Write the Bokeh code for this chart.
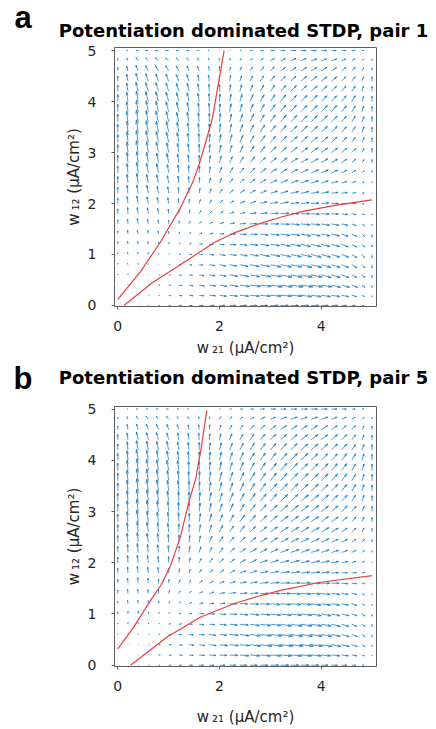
import numpy as np
from bokeh.plotting import figure
from bokeh.models import Range1d, Label
from bokeh.layouts import column
from bokeh.embed import file_html
from bokeh.resources import INLINE

# ---------------- data ----------------
# quiver grid (same on both axes), µA/cm²
w_grid = [0.0, 0.2, 0.4, 0.6, 0.8, 1.0, 1.2, 1.4, 1.6, 1.8, 2.0, 2.2, 2.4,
          2.6, 2.8, 3.0, 3.2, 3.4, 3.6, 3.8, 4.0, 4.2, 4.4, 4.6, 4.8, 5.0]

# arrow components (tenths of an arbitrary unit); rows: w12 = 0 ... 5, columns: w21 = 0 ... 5
U_pair1 = [
    [0, 0, 1, 2, 3, 4, 6, 7, 9, 11, 12, 14, 15, 16, 17, 18, 18, 18, 18, 17, 16, 14, 11, 8, 5, 0],
    [0, 0, 1, 2, 3, 5, 7, 9, 11, 14, 16, 18, 20, 21, 23, 24, 25, 25, 24, 23, 21, 19, 16, 11, 6, 0],
    [0, 0, 0, 2, 3, 5, 7, 9, 12, 14, 17, 19, 22, 24, 25, 27, 27, 28, 27, 26, 24, 21, 18, 13, 7, 0],
    [0, 0, 0, 1, 2, 4, 6, 8, 11, 13, 15, 18, 20, 22, 24, 25, 26, 26, 26, 25, 23, 20, 17, 12, 7, 0],
    [0, -1, 0, 0, 1, 3, 5, 7, 9, 12, 14, 16, 19, 21, 22, 24, 25, 25, 25, 24, 22, 20, 16, 12, 7, 0],
    [0, -1, -1, 0, 1, 2, 4, 6, 8, 10, 13, 15, 17, 19, 21, 22, 23, 24, 24, 23, 21, 19, 16, 12, 6, 0],
    [0, -1, -1, -1, 0, 1, 3, 5, 7, 9, 11, 14, 16, 18, 20, 21, 22, 23, 22, 22, 20, 18, 15, 11, 6, 0],
    [0, -1, -2, -1, -1, 0, 2, 4, 6, 8, 10, 13, 15, 17, 18, 20, 21, 21, 22, 21, 20, 18, 15, 11, 6, 0],
    [0, -1, -2, -2, -1, 0, 1, 3, 5, 7, 9, 11, 13, 15, 17, 19, 20, 20, 21, 20, 19, 17, 14, 10, 6, 0],
    [0, -1, -2, -2, -2, -1, 0, 2, 4, 6, 8, 10, 12, 14, 16, 18, 19, 19, 20, 19, 18, 16, 14, 10, 6, 0],
    [0, -2, -3, -3, -3, -2, -1, 1, 3, 5, 7, 9, 11, 13, 15, 17, 18, 19, 19, 18, 17, 16, 13, 10, 5, 0],
    [0, -2, -3, -3, -3, -2, -1, 0, 2, 4, 6, 8, 10, 12, 14, 16, 17, 18, 18, 18, 17, 15, 13, 9, 5, 0],
    [0, -2, -3, -4, -4, -3, -2, -1, 1, 3, 5, 7, 9, 11, 13, 15, 16, 17, 17, 17, 16, 15, 12, 9, 5, 0],
    [0, -2, -3, -4, -4, -3, -2, -1, 1, 2, 5, 7, 9, 11, 13, 14, 15, 16, 17, 17, 16, 14, 12, 9, 5, 0],
    [0, -2, -3, -4, -4, -4, -3, -2, 0, 2, 4, 6, 8, 10, 12, 14, 15, 16, 16, 16, 15, 14, 12, 9, 5, 0],
    [0, -2, -4, -4, -5, -4, -3, -2, 0, 1, 3, 5, 7, 9, 11, 13, 14, 15, 16, 16, 15, 14, 12, 9, 5, 0],
    [0, -2, -4, -5, -5, -5, -4, -3, -1, 1, 3, 5, 7, 9, 11, 12, 14, 15, 15, 15, 15, 13, 11, 8, 5, 0],
    [0, -2, -4, -5, -5, -5, -4, -3, -2, 0, 2, 4, 6, 8, 10, 12, 13, 14, 15, 15, 14, 13, 11, 8, 5, 0],
    [0, -3, -4, -5, -6, -5, -5, -4, -2, 0, 2, 4, 6, 8, 9, 11, 13, 14, 14, 14, 14, 13, 11, 8, 5, 0],
    [0, -3, -4, -5, -6, -6, -5, -4, -2, -1, 1, 3, 5, 7, 9, 11, 12, 13, 14, 14, 14, 12, 11, 8, 4, 0],
    [0, -3, -4, -6, -6, -6, -5, -4, -3, -1, 1, 3, 5, 7, 9, 10, 12, 13, 14, 14, 13, 12, 10, 8, 4, 0],
    [0, -3, -5, -6, -6, -6, -5, -4, -3, -1, 0, 2, 4, 6, 8, 10, 12, 13, 13, 14, 13, 12, 10, 8, 4, 0],
    [0, -3, -5, -6, -6, -6, -6, -5, -3, -2, 0, 2, 4, 6, 8, 10, 11, 12, 13, 13, 13, 12, 10, 8, 4, 0],
    [0, -3, -5, -6, -7, -7, -6, -5, -4, -2, 0, 2, 4, 6, 8, 9, 11, 12, 13, 13, 13, 12, 10, 8, 4, 0],
    [0, -3, -5, -6, -7, -7, -6, -5, -4, -2, -1, 1, 3, 5, 7, 9, 11, 12, 12, 13, 12, 12, 10, 7, 4, 0],
    [0, -3, -5, -6, -7, -7, -6, -6, -4, -3, -1, 1, 3, 5, 7, 9, 10, 11, 12, 12, 12, 11, 10, 7, 4, 0],
]
V_pair1 = [
    [0, 0, 0, 0, 0, 0, 0, 0, 0, 0, 0, 0, 0, 0, 0, 0, 0, 0, 0, 0, 0, 0, 0, 0, 0, 0],
    [0, 0, 0, 0, -1, -1, -1, -1, -1, -1, -2, -2, -2, -2, -2, -2, -2, -2, -3, -3, -3, -3, -3, -3, -3, -3],
    [1, 1, 0, 0, 0, -1, -1, -2, -2, -2, -3, -3, -3, -3, -3, -4, -4, -4, -4, -4, -4, -5, -5, -5, -5, -5],
    [2, 2, 2, 1, 0, 0, -1, -1, -2, -2, -3, -3, -4, -4, -4, -4, -5, -5, -5, -5, -6, -6, -6, -6, -6, -6],
    [3, 3, 3, 2, 1, 1, 0, -1, -1, -2, -3, -3, -4, -4, -4, -5, -5, -5, -6, -6, -6, -6, -6, -7, -7, -7],
    [4, 5, 5, 4, 3, 2, 1, 0, 0, -1, -2, -2, -3, -3, -4, -4, -5, -5, -5, -6, -6, -6, -6, -7, -7, -7],
    [6, 7, 7, 6, 5, 4, 3, 2, 1, 0, -1, -1, -2, -2, -3, -3, -4, -4, -5, -5, -5, -5, -6, -6, -6, -6],
    [7, 9, 9, 8, 7, 6, 5, 4, 3, 2, 1, 0, -1, -1, -2, -2, -3, -3, -4, -4, -4, -4, -5, -5, -5, -6],
    [9, 11, 12, 11, 9, 8, 7, 6, 5, 4, 3, 2, 1, 1, 0, 0, -1, -2, -2, -2, -3, -3, -3, -4, -4, -4],
    [11, 14, 14, 13, 12, 10, 9, 8, 7, 6, 5, 4, 3, 2, 2, 1, 1, 0, 0, -1, -1, -1, -2, -2, -2, -3],
    [12, 16, 17, 15, 14, 13, 11, 10, 9, 8, 7, 6, 5, 5, 4, 3, 3, 2, 2, 1, 1, 0, 0, 0, -1, -1],
    [14, 18, 19, 18, 16, 15, 14, 13, 11, 10, 9, 8, 7, 7, 6, 5, 5, 4, 4, 3, 3, 2, 2, 2, 1, 1],
    [15, 20, 22, 20, 19, 17, 16, 15, 13, 12, 11, 10, 9, 9, 8, 7, 7, 6, 6, 5, 5, 4, 4, 4, 3, 3],
    [16, 21, 24, 22, 21, 19, 18, 17, 15, 14, 13, 12, 11, 11, 10, 9, 9, 8, 8, 7, 7, 6, 6, 6, 5, 5],
    [17, 23, 25, 24, 22, 21, 20, 18, 17, 16, 15, 14, 13, 13, 12, 11, 11, 10, 9, 9, 9, 8, 8, 8, 7, 7],
    [18, 24, 27, 25, 24, 22, 21, 20, 19, 18, 17, 16, 15, 14, 14, 13, 12, 12, 11, 11, 10, 10, 10, 9, 9, 9],
    [18, 25, 27, 26, 25, 23, 22, 21, 20, 19, 18, 17, 16, 15, 15, 14, 14, 13, 13, 12, 12, 12, 11, 11, 11, 10],
    [18, 25, 28, 26, 25, 24, 23, 21, 20, 19, 19, 18, 17, 16, 16, 15, 15, 14, 14, 13, 13, 13, 12, 12, 12, 11],
    [18, 24, 27, 26, 25, 24, 22, 22, 21, 20, 19, 18, 17, 17, 16, 16, 15, 15, 14, 14, 14, 13, 13, 13, 12, 12],
    [17, 23, 26, 25, 24, 23, 22, 21, 20, 19, 18, 18, 17, 17, 16, 16, 15, 15, 14, 14, 14, 14, 13, 13, 13, 12],
    [16, 21, 24, 23, 22, 21, 20, 20, 19, 18, 17, 17, 16, 16, 15, 15, 15, 14, 14, 14, 13, 13, 13, 13, 12, 12],
    [14, 19, 21, 20, 20, 19, 18, 18, 17, 16, 16, 15, 15, 14, 14, 14, 13, 13, 13, 12, 12, 12, 12, 12, 12, 11],
    [11, 16, 18, 17, 16, 16, 15, 15, 14, 14, 13, 13, 12, 12, 12, 12, 11, 11, 11, 11, 10, 10, 10, 10, 10, 10],
    [8, 11, 13, 12, 12, 12, 11, 11, 10, 10, 10, 9, 9, 9, 9, 9, 8, 8, 8, 8, 8, 8, 8, 8, 7, 7],
    [5, 6, 7, 7, 7, 6, 6, 6, 6, 6, 5, 5, 5, 5, 5, 5, 5, 5, 5, 4, 4, 4, 4, 4, 4, 4],
    [0, 0, 0, 0, 0, 0, 0, 0, 0, 0, 0, 0, 0, 0, 0, 0, 0, 0, 0, 0, 0, 0, 0, 0, 0, 0],
]
U_pair5 = [
    [0, 0, 1, 2, 3, 5, 6, 8, 10, 11, 13, 14, 16, 17, 18, 19, 19, 19, 19, 18, 16, 14, 12, 9, 5, 0],
    [0, 0, 1, 2, 4, 6, 8, 10, 12, 15, 17, 19, 21, 23, 24, 25, 26, 26, 25, 24, 22, 20, 16, 12, 6, 0],
    [0, 0, 1, 2, 4, 6, 8, 11, 13, 16, 19, 21, 23, 25, 27, 28, 29, 29, 29, 27, 25, 22, 18, 13, 7, 0],
    [0, 0, 1, 2, 3, 5, 7, 10, 12, 15, 17, 20, 22, 24, 26, 27, 28, 28, 27, 26, 24, 21, 18, 13, 7, 0],
    [0, 0, 0, 1, 2, 4, 6, 8, 11, 13, 16, 18, 20, 22, 24, 25, 26, 27, 26, 25, 23, 21, 17, 12, 7, 0],
    [0, 0, 0, 1, 2, 3, 5, 7, 10, 12, 15, 17, 19, 21, 23, 24, 25, 25, 25, 24, 23, 20, 17, 12, 7, 0],
    [0, -1, -1, 0, 1, 3, 4, 6, 9, 11, 13, 16, 18, 20, 22, 23, 24, 24, 24, 23, 22, 19, 16, 12, 6, 0],
    [0, -1, -1, -1, 0, 2, 3, 5, 8, 10, 12, 14, 17, 19, 20, 22, 23, 23, 23, 22, 21, 19, 15, 11, 6, 0],
    [0, -1, -1, -1, 0, 1, 3, 4, 7, 9, 11, 13, 15, 17, 19, 21, 22, 22, 22, 22, 20, 18, 15, 11, 6, 0],
    [0, -1, -2, -2, -1, 0, 2, 3, 5, 8, 10, 12, 14, 16, 18, 19, 21, 21, 21, 21, 19, 17, 14, 11, 6, 0],
    [0, -1, -2, -2, -1, 0, 1, 3, 5, 7, 9, 11, 13, 15, 17, 19, 20, 20, 20, 20, 19, 17, 14, 10, 6, 0],
    [0, -1, -2, -2, -2, -1, 1, 2, 4, 6, 8, 11, 13, 15, 16, 18, 19, 20, 20, 19, 18, 17, 14, 10, 6, 0],
    [0, -2, -2, -3, -2, -1, 0, 2, 3, 6, 8, 10, 12, 14, 16, 17, 18, 19, 19, 19, 18, 16, 14, 10, 6, 0],
    [0, -2, -2, -3, -2, -2, 0, 1, 3, 5, 7, 9, 11, 13, 15, 17, 18, 19, 19, 19, 18, 16, 13, 10, 5, 0],
    [0, -2, -3, -3, -3, -2, -1, 1, 3, 5, 7, 9, 11, 13, 15, 16, 18, 18, 19, 18, 17, 16, 13, 10, 5, 0],
    [0, -2, -3, -3, -3, -2, -1, 0, 2, 4, 6, 8, 10, 12, 14, 16, 17, 18, 18, 18, 17, 15, 13, 10, 5, 0],
    [0, -2, -3, -3, -3, -3, -1, 0, 2, 4, 6, 8, 10, 12, 14, 15, 17, 17, 18, 18, 17, 15, 13, 9, 5, 0],
    [0, -2, -3, -4, -4, -3, -2, 0, 1, 3, 5, 7, 9, 11, 13, 15, 16, 17, 17, 17, 16, 15, 12, 9, 5, 0],
    [0, -2, -3, -4, -4, -3, -2, -1, 1, 3, 5, 7, 9, 11, 13, 14, 15, 16, 17, 17, 16, 14, 12, 9, 5, 0],
    [0, -2, -3, -4, -4, -4, -3, -1, 0, 2, 4, 6, 8, 10, 12, 14, 15, 16, 16, 16, 16, 14, 12, 9, 5, 0],
    [0, -2, -4, -4, -4, -4, -3, -2, 0, 2, 4, 6, 8, 10, 12, 13, 15, 16, 16, 16, 15, 14, 12, 9, 5, 0],
    [0, -2, -4, -4, -4, -4, -3, -2, 0, 2, 4, 6, 8, 10, 12, 13, 14, 15, 16, 16, 15, 14, 12, 9, 5, 0],
    [0, -2, -4, -4, -5, -4, -3, -2, -1, 1, 3, 5, 7, 9, 11, 13, 14, 15, 16, 16, 15, 14, 12, 9, 5, 0],
    [0, -2, -4, -5, -5, -4, -4, -2, -1, 1, 3, 5, 7, 9, 11, 13, 14, 15, 15, 15, 15, 14, 11, 9, 5, 0],
    [0, -2, -4, -5, -5, -5, -4, -3, -1, 1, 3, 5, 7, 9, 11, 12, 14, 15, 15, 15, 15, 13, 11, 8, 5, 0],
    [0, -2, -4, -5, -5, -5, -4, -3, -1, 0, 2, 4, 6, 8, 10, 12, 13, 14, 15, 15, 14, 13, 11, 8, 5, 0],
]
V_pair5 = [
    [0, 0, 0, 0, 0, 0, 0, 0, 0, 0, 0, 0, 0, 0, 0, 0, 0, 0, 0, 0, 0, 0, 0, 0, 0, 0],
    [0, 0, 0, 0, 0, -1, -1, -1, -1, -1, -1, -1, -2, -2, -2, -2, -2, -2, -2, -2, -2, -2, -2, -2, -2, -2],
    [1, 1, 1, 0, 0, 0, -1, -1, -2, -2, -2, -2, -2, -3, -3, -3, -3, -3, -3, -3, -4, -4, -4, -4, -4, -4],
    [2, 2, 2, 1, 1, 0, 0, -1, -1, -2, -2, -2, -3, -3, -3, -3, -4, -4, -4, -4, -4, -4, -5, -5, -5, -5],
    [3, 4, 4, 3, 2, 1, 1, 0, -1, -1, -2, -2, -2, -3, -3, -3, -4, -4, -4, -4, -4, -5, -5, -5, -5, -5],
    [5, 6, 6, 5, 4, 3, 2, 1, 1, 0, -1, -1, -2, -2, -2, -3, -3, -3, -3, -4, -4, -4, -4, -4, -5, -5],
    [6, 8, 8, 7, 6, 5, 4, 3, 2, 1, 1, 0, 0, -1, -1, -2, -2, -2, -2, -3, -3, -3, -3, -4, -4, -4],
    [8, 10, 10, 9, 8, 7, 6, 5, 4, 3, 2, 2, 1, 1, 0, 0, 0, -1, -1, -1, -2, -2, -2, -2, -3, -3],
    [9, 12, 13, 12, 10, 9, 8, 7, 6, 5, 4, 4, 3, 3, 2, 2, 1, 1, 1, 0, 0, 0, -1, -1, -1, -1],
    [11, 14, 16, 14, 13, 11, 10, 9, 8, 7, 7, 6, 5, 5, 4, 4, 3, 3, 2, 2, 2, 1, 1, 1, 1, 0],
    [13, 17, 18, 17, 15, 14, 13, 11, 10, 10, 9, 8, 7, 7, 6, 6, 5, 5, 4, 4, 4, 3, 3, 3, 3, 2],
    [14, 19, 21, 19, 18, 16, 15, 14, 13, 12, 11, 10, 9, 9, 8, 8, 7, 7, 7, 6, 6, 5, 5, 5, 5, 4],
    [16, 21, 23, 21, 20, 18, 17, 16, 15, 14, 13, 12, 12, 11, 10, 10, 9, 9, 9, 8, 8, 7, 7, 7, 7, 6],
    [17, 22, 25, 23, 22, 20, 19, 18, 17, 16, 15, 14, 14, 13, 12, 12, 11, 11, 11, 10, 10, 9, 9, 9, 9, 8],
    [18, 24, 27, 25, 23, 22, 21, 20, 19, 18, 17, 16, 15, 15, 14, 14, 13, 13, 12, 12, 12, 11, 11, 11, 11, 10],
    [18, 25, 28, 26, 25, 23, 22, 21, 20, 19, 18, 18, 17, 16, 16, 15, 15, 14, 14, 14, 13, 13, 13, 12, 12, 12],
    [19, 25, 28, 27, 26, 24, 23, 22, 21, 20, 19, 19, 18, 18, 17, 17, 16, 16, 15, 15, 15, 14, 14, 14, 14, 13],
    [19, 25, 29, 27, 26, 25, 24, 23, 22, 21, 20, 19, 19, 18, 18, 17, 17, 17, 16, 16, 15, 15, 15, 15, 15, 14],
    [18, 25, 28, 27, 26, 24, 23, 22, 22, 21, 20, 20, 19, 19, 18, 18, 17, 17, 17, 16, 16, 16, 16, 15, 15, 15],
    [17, 24, 27, 26, 25, 24, 23, 22, 21, 20, 20, 19, 19, 18, 18, 17, 17, 17, 16, 16, 16, 16, 16, 15, 15, 15],
    [16, 22, 25, 24, 23, 22, 21, 20, 20, 19, 19, 18, 18, 17, 17, 17, 16, 16, 16, 15, 15, 15, 15, 15, 15, 14],
    [14, 19, 22, 21, 20, 20, 19, 18, 18, 17, 17, 16, 16, 16, 15, 15, 15, 15, 14, 14, 14, 14, 14, 13, 13, 13],
    [12, 16, 18, 17, 17, 16, 16, 15, 15, 14, 14, 14, 13, 13, 13, 13, 12, 12, 12, 12, 12, 12, 12, 11, 11, 11],
    [8, 12, 13, 13, 12, 12, 11, 11, 11, 11, 10, 10, 10, 10, 10, 9, 9, 9, 9, 9, 9, 9, 9, 9, 8, 8],
    [5, 6, 7, 7, 7, 7, 6, 6, 6, 6, 6, 6, 5, 5, 5, 5, 5, 5, 5, 5, 5, 5, 5, 5, 5, 5],
    [0, 0, 0, 0, 0, 0, 0, 0, 0, 0, 0, 0, 0, 0, 0, 0, 0, 0, 0, 0, 0, 0, 0, 0, 0, 0],
]

# nullclines (red curves)
steep1_w21 = [0.0, 0.45, 0.83, 1.23, 1.48, 1.61, 1.75, 1.86, 2.09]
steep1_w12 = [0.12, 0.67, 1.23, 1.91, 2.43, 2.80, 3.28, 3.67, 5.0]
flat1_w21 = [0.12, 0.67, 1.23, 1.89, 2.28, 2.74, 3.2, 3.66, 4.3, 5.0]
flat1_w12 = [0.0, 0.44, 0.8, 1.23, 1.42, 1.59, 1.73, 1.85, 1.97, 2.07]

steep5_w21 = [0.0, 0.31, 0.64, 0.86, 1.04, 1.23, 1.40, 1.53, 1.63, 1.75]
steep5_w12 = [0.32, 0.74, 1.26, 1.58, 1.95, 2.5, 3.2, 3.63, 4.18, 4.97]
flat5_w21 = [0.25, 0.97, 1.63, 2.28, 2.81, 3.2, 3.99, 5.0]
flat5_w12 = [0.0, 0.55, 0.94, 1.2, 1.36, 1.46, 1.62, 1.75]

titles = ["Potentiation dominated STDP, pair 1", "Potentiation dominated STDP, pair 5"]
letters = ["a", "b"]
x_ticks = [0, 2, 4]
y_ticks = [0, 1, 2, 3, 4, 5]
x_label = "w\u2009\u2082\u2081 (\u03bcA/cm\u00b2)"
y_label = "w\u2009\u2081\u2082 (\u03bcA/cm\u00b2)"

# ---------------- drawing ----------------
ARROW = "#1479c2"
RED = "#e8403c"
FRAME = "#5f5f5f"
TXT = "#262626"
FRAME_LEFT = 114


def quiver(p, U, V):
    X, Y = np.meshgrid(np.array(w_grid), np.array(w_grid))
    u = np.array(U, dtype=float)
    v = np.array(V, dtype=float)
    n = len(w_grid)
    dx = (w_grid[-1] - w_grid[0]) / n
    mag = np.hypot(u, v)
    scale = 0.9 * np.sqrt(2.0) * dx / mag.max()
    u = (u * scale).ravel()
    v = (v * scale).ravel()
    x0 = X.ravel()
    y0 = Y.ravel()
    keep = np.hypot(u, v) > 0
    x0, y0, u, v = x0[keep], y0[keep], u[keep], v[keep]
    x1 = x0 + u
    y1 = y0 + v
    lw = 0.75
    p.segment(x0, y0, x1, y1, line_color=ARROW, line_width=lw)
    a, b = 0.33, 0.3
    p.segment(x1 - a * (u + b * v), y1 - a * (v - b * u), x1, y1,
              line_color=ARROW, line_width=lw)
    p.segment(x1 - a * (u - b * v), y1 - a * (v + b * u), x1, y1,
              line_color=ARROW, line_width=lw)


def style_axis(ax, ticks):
    ax.ticker = ticks
    ax.major_tick_out = 3
    ax.major_tick_in = 0
    ax.minor_tick_out = 0
    ax.minor_tick_in = 0
    ax.axis_line_color = FRAME
    ax.major_tick_line_color = FRAME
    ax.major_label_text_font = "DejaVu Sans"
    ax.major_label_text_color = TXT
    ax.major_label_text_font_size = "14px"


def canvas_label(text, x, y, align, font, size, fb_x, fb_y):
    """Text placed in canvas pixels (falls back to panel-relative units)."""
    kw = dict(text=text, text_align=align, text_baseline="alphabetic",
              text_font=font, text_font_style="bold", text_font_size=size,
              text_color="black")
    try:
        return Label(x=x, y=y, x_units="canvas", y_units="canvas", **kw)
    except Exception:
        return Label(x=fb_x, y=fb_y, x_units="screen", y_units="screen", **kw)


def panel(U, V, sx, sy, fx, fy, title, letter, height, top, bottom,
          y_lo, y_hi, title_base, letter_x, letter_base, xlabel_standoff):
    p = figure(width=436, height=height, output_backend="svg",
               toolbar_location=None,
               x_range=Range1d(-0.065, 5.087), y_range=Range1d(y_lo, y_hi),
               min_border_left=FRAME_LEFT, min_border_right=60,
               min_border_top=top, min_border_bottom=bottom)
    p.grid.visible = False
    p.outline_line_color = FRAME
    p.outline_line_width = 1
    p.background_fill_color = "white"
    p.border_fill_color = "white"

    quiver(p, U, V)
    p.line(sx, sy, line_color=RED, line_width=1.2)
    p.line(fx, fy, line_color=RED, line_width=1.2)

    style_axis(p.xaxis[0], x_ticks)
    style_axis(p.yaxis[0], y_ticks)
    p.xaxis.major_label_standoff = 11
    p.yaxis.major_label_standoff = 15
    p.xaxis.axis_label = x_label
    p.yaxis.axis_label = y_label
    for ax in (p.xaxis[0], p.yaxis[0]):
        ax.axis_label_text_font = "DejaVu Sans"
        ax.axis_label_text_font_size = "15px"
        ax.axis_label_text_font_style = "normal"
        ax.axis_label_text_color = TXT
    p.xaxis.axis_label_standoff = xlabel_standoff
    p.yaxis.axis_label_standoff = 2

    # title above the frame, panel letter in the left margin
    p.add_layout(canvas_label(title, 243, title_base, "center", "DejaVu Sans",
                              "18px", 243 - FRAME_LEFT, top - title_base),
                 "above")
    p.add_layout(canvas_label(letter, letter_x, letter_base, "left",
                              "Liberation Sans", "31px", 0, 0),
                 "left")
    return p


# pair 1 frame: page y 47..306 ; pair 5 frame: page y 406..666
pa = panel(U_pair1, V_pair1, steep1_w21, steep1_w12, flat1_w21, flat1_w12,
           titles[0], letters[0], height=359, top=47, bottom=53,
           y_lo=-0.02, y_hi=5.06, title_base=30, letter_x=14, letter_base=17,
           xlabel_standoff=5)
pb = panel(U_pair5, V_pair5, steep5_w21, steep5_w12, flat5_w21, flat5_w12,
           titles[1], letters[1], height=370, top=47, bottom=63,
           y_lo=-0.025, y_hi=5.05, title_base=18, letter_x=13, letter_base=19,
           xlabel_standoff=14)

layout = column(pa, pb, spacing=0)
open("out.html", "w").write(file_html(layout, INLINE))
